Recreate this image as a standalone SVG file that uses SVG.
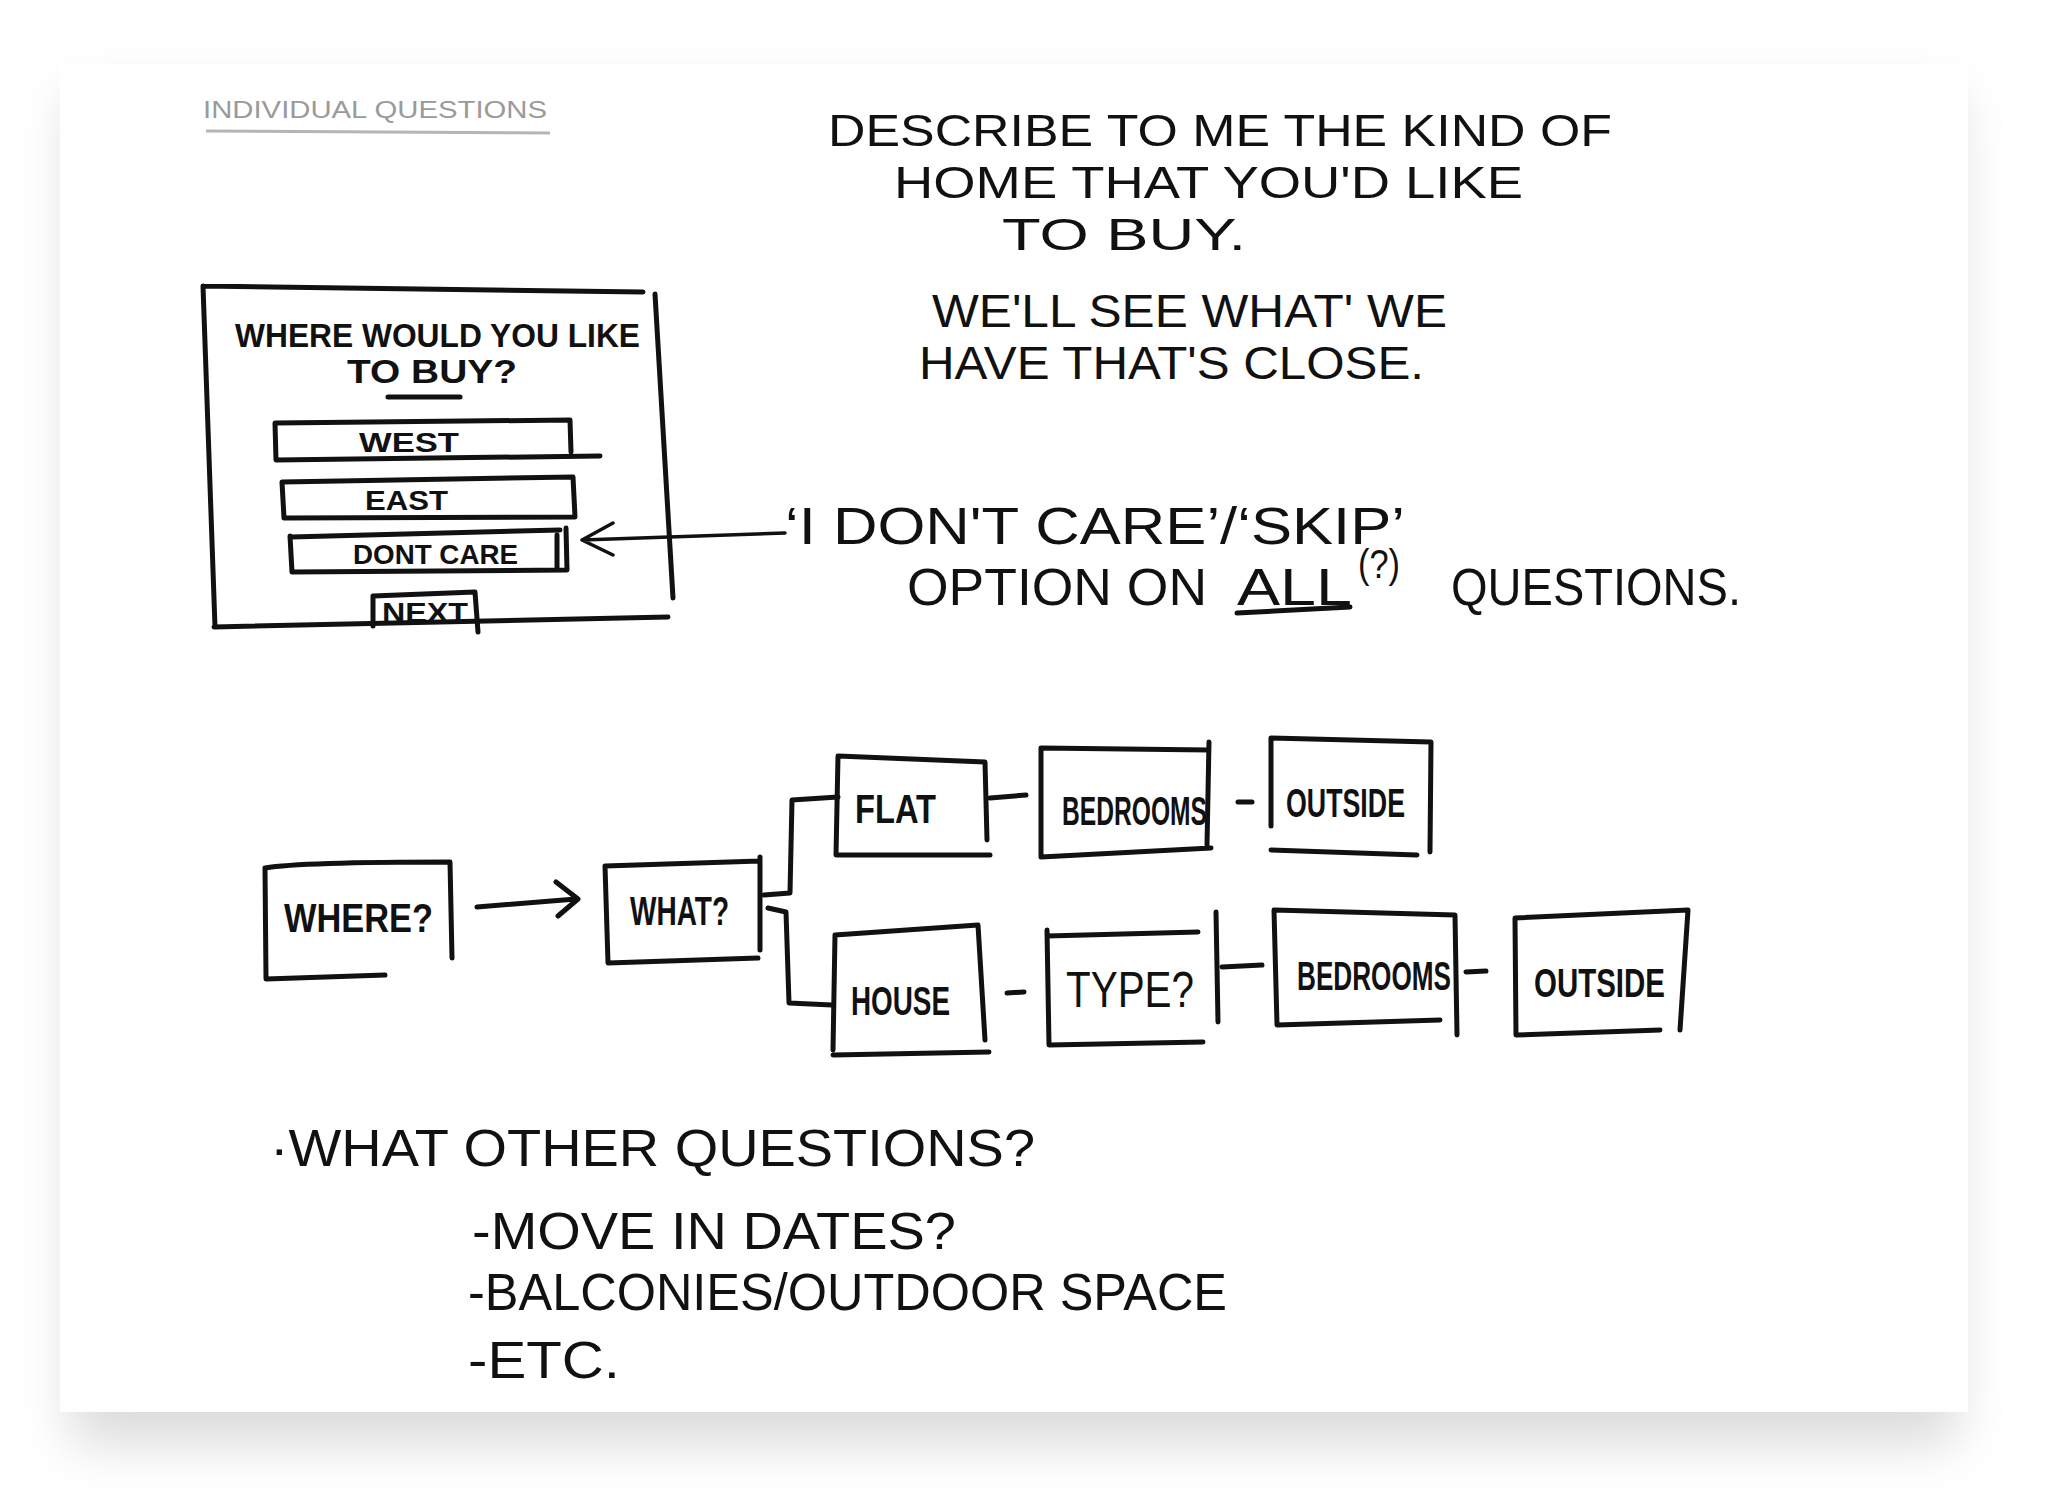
<svg xmlns="http://www.w3.org/2000/svg" width="2068" height="1508" viewBox="0 0 2068 1508">
  <defs>
    <filter id="shadow" x="-10%" y="-10%" width="120%" height="125%">
      <feGaussianBlur stdDeviation="26"/>
    </filter>
    <style>
      .ink { fill: none; stroke: #111; stroke-width: 5; stroke-linecap: round; stroke-linejoin: round; }
      .thin { fill: none; stroke: #111; stroke-width: 3.5; stroke-linecap: round; stroke-linejoin: round; }
      .hand { font-family: "Liberation Sans", Arial, sans-serif; fill: #111; }
      .big { font-size: 52px; }
      .intro { font-size: 45px; }
      .mid { font-size: 46px; }
      .box { font-size: 40px; font-weight: bold; }
      .form { font-size: 34px; font-weight: bold; }
      .btn { font-size: 28px; font-weight: bold; }
    </style>
  </defs>

  <rect width="2068" height="1508" fill="#ffffff"/>
  <rect x="70" y="94" width="1888" height="1350" fill="#000" opacity="0.14" filter="url(#shadow)"/>
  <rect id="paper" x="60" y="64" width="1908" height="1348" fill="#ffffff"/>

  <g id="header">
    <text class="hand" x="203" y="118" font-size="24" style="fill:#9a9a9a" textLength="344" lengthAdjust="spacingAndGlyphs">INDIVIDUAL  QUESTIONS</text>
    <path d="M 206 131 L 550 133" fill="none" stroke="#b5b5b5" stroke-width="3"/>
  </g>

  <g id="intro">
    <text class="hand intro" x="828" y="146" textLength="784" lengthAdjust="spacingAndGlyphs">DESCRIBE TO ME THE KIND OF</text>
    <text class="hand intro" x="894" y="198" textLength="629" lengthAdjust="spacingAndGlyphs">HOME THAT YOU'D LIKE</text>
    <text class="hand intro" x="1002" y="250" textLength="244" lengthAdjust="spacingAndGlyphs">TO BUY.</text>
    <text class="hand mid" x="932" y="327" textLength="515" lengthAdjust="spacingAndGlyphs">WE'LL SEE WHAT' WE</text>
    <text class="hand mid" x="919" y="379" textLength="505" lengthAdjust="spacingAndGlyphs">HAVE THAT'S CLOSE.</text>
  </g>

  <g id="form">
    <path class="ink" d="M 203 286 L 643 292 M 203 286 L 215 627 M 214 627 L 668 617 M 655 294 L 673 598"/>
    <text class="hand form" x="235" y="347" textLength="405" lengthAdjust="spacingAndGlyphs">WHERE WOULD YOU LIKE</text>
    <text class="hand form" x="347" y="383" textLength="170" lengthAdjust="spacingAndGlyphs">TO BUY?</text>
    <path class="ink" d="M 388 397 L 460 397"/>
    <g id="btn-west">
      <path class="ink" d="M 276 423 L 570 420 L 571 452 M 275 423 L 276 460 L 600 456"/>
      <text class="hand btn" x="359" y="452" textLength="100" lengthAdjust="spacingAndGlyphs">WEST</text>
    </g>
    <g id="btn-east">
      <path class="ink" d="M 282 482 L 573 477 L 575 517 L 284 518 Z"/>
      <text class="hand btn" x="365" y="510" textLength="83" lengthAdjust="spacingAndGlyphs">EAST</text>
    </g>
    <g id="btn-dontcare">
      <path class="ink" d="M 291 537 L 560 530 M 290 536 L 292 572 L 567 570 L 566 528 M 557 535 L 557 568"/>
      <text class="hand btn" x="353" y="564" textLength="165" lengthAdjust="spacingAndGlyphs">DONT CARE</text>
    </g>
    <g id="btn-next">
      <path class="ink" d="M 373 596 L 475 592 L 478 632 M 373 596 L 373 626"/>
      <text class="hand btn" x="382" y="622" textLength="86" lengthAdjust="spacingAndGlyphs">NEXT</text>
    </g>
  </g>

  <g id="skip-note">
    <text class="hand big" x="785" y="544" textLength="620" lengthAdjust="spacingAndGlyphs">‘I DON'T CARE’/‘SKIP’</text>
    <text class="hand big" x="907" y="605" textLength="300" lengthAdjust="spacingAndGlyphs">OPTION ON</text>
    <text class="hand big" x="1237" y="605" textLength="115" lengthAdjust="spacingAndGlyphs">ALL</text>
    <text class="hand" x="1358" y="578" font-size="40" textLength="42" lengthAdjust="spacingAndGlyphs">(?)</text>
    <text class="hand big" x="1451" y="605" textLength="290" lengthAdjust="spacingAndGlyphs">QUESTIONS.</text>
    <path class="ink" d="M 1237 613 L 1350 607"/>
  </g>

  <g id="node-where">
    <path class="ink" d="M 265 868 Q 300 862 450 862 L 452 958 M 265 868 L 266 978 M 266 979 L 385 975"/>
    <text class="hand box" x="284" y="932" textLength="149" lengthAdjust="spacingAndGlyphs">WHERE?</text>
  </g>
  <g id="node-what">
    <path class="ink" d="M 605 866 L 760 861 M 760 857 L 760 950 M 605 866 L 608 963 L 758 958"/>
    <text class="hand box" x="630" y="925" textLength="99" lengthAdjust="spacingAndGlyphs">WHAT?</text>
  </g>
  <g id="node-flat">
    <path class="ink" d="M 838 756 L 985 762 L 987 840 M 838 756 L 836 855 L 990 855"/>
    <text class="hand box" x="855" y="823" textLength="81" lengthAdjust="spacingAndGlyphs">FLAT</text>
  </g>
  <g id="node-flat-bedrooms">
    <path class="ink" d="M 1041 748 L 1209 750 M 1209 742 L 1207 845 M 1041 748 L 1041 857 L 1211 848"/>
    <text class="hand box" x="1062" y="825" textLength="145" lengthAdjust="spacingAndGlyphs">BEDROOMS</text>
  </g>
  <g id="node-flat-outside">
    <path class="ink" d="M 1271 738 L 1431 742 L 1430 852 M 1271 738 L 1271 826 M 1271 850 L 1417 855"/>
    <text class="hand box" x="1286" y="817" textLength="119" lengthAdjust="spacingAndGlyphs">OUTSIDE</text>
  </g>
  <g id="node-house">
    <path class="ink" d="M 835 935 L 978 925 L 985 1040 M 835 935 L 833 1050 M 833 1055 L 989 1052"/>
    <text class="hand box" x="851" y="1015" textLength="99" lengthAdjust="spacingAndGlyphs">HOUSE</text>
  </g>
  <g id="node-type">
    <path class="ink" d="M 1047 936 L 1198 932 M 1047 930 L 1049 1045 L 1203 1042 M 1216 912 L 1218 1022"/>
    <text class="hand" x="1066" y="1007" font-size="50" textLength="128" lengthAdjust="spacingAndGlyphs">TYPE?</text>
  </g>
  <g id="node-house-bedrooms">
    <path class="ink" d="M 1274 910 L 1455 915 L 1457 1035 M 1274 910 L 1277 1025 L 1440 1020"/>
    <text class="hand box" x="1297" y="990" textLength="154" lengthAdjust="spacingAndGlyphs">BEDROOMS</text>
  </g>
  <g id="node-house-outside">
    <path class="ink" d="M 1515 918 L 1688 910 L 1680 1030 M 1515 918 L 1516 1035 L 1660 1030"/>
    <text class="hand box" x="1534" y="997" textLength="131" lengthAdjust="spacingAndGlyphs">OUTSIDE</text>
  </g>

  <g id="connectors">
    <path class="thin" d="M 785 533 L 582 540 M 613 523 L 582 540 L 613 555"/>
    <path class="ink" d="M 477 907 L 576 899 M 556 882 L 578 899 L 558 916"/>
    <path class="ink" d="M 764 895 L 790 893 L 792 800 L 838 797"/>
    <path class="ink" d="M 768 908 L 786 912 L 789 1003 L 832 1005"/>
    <path class="ink" d="M 990 798 L 1026 795"/>
    <path class="ink" d="M 1238 802 L 1252 802"/>
    <path class="ink" d="M 1007 993 L 1024 992"/>
    <path class="ink" d="M 1222 967 L 1262 965"/>
    <path class="ink" d="M 1466 972 L 1486 971"/>
  </g>

  <g id="other-questions">
    <text class="hand big" x="270" y="1166" textLength="765" lengthAdjust="spacingAndGlyphs">·WHAT OTHER QUESTIONS?</text>
    <text class="hand big" x="472" y="1249" textLength="484" lengthAdjust="spacingAndGlyphs">-MOVE IN DATES?</text>
    <text class="hand big" x="468" y="1310" textLength="759" lengthAdjust="spacingAndGlyphs">-BALCONIES/OUTDOOR SPACE</text>
    <text class="hand big" x="468" y="1378" textLength="152" lengthAdjust="spacingAndGlyphs">-ETC.</text>
  </g>
</svg>
